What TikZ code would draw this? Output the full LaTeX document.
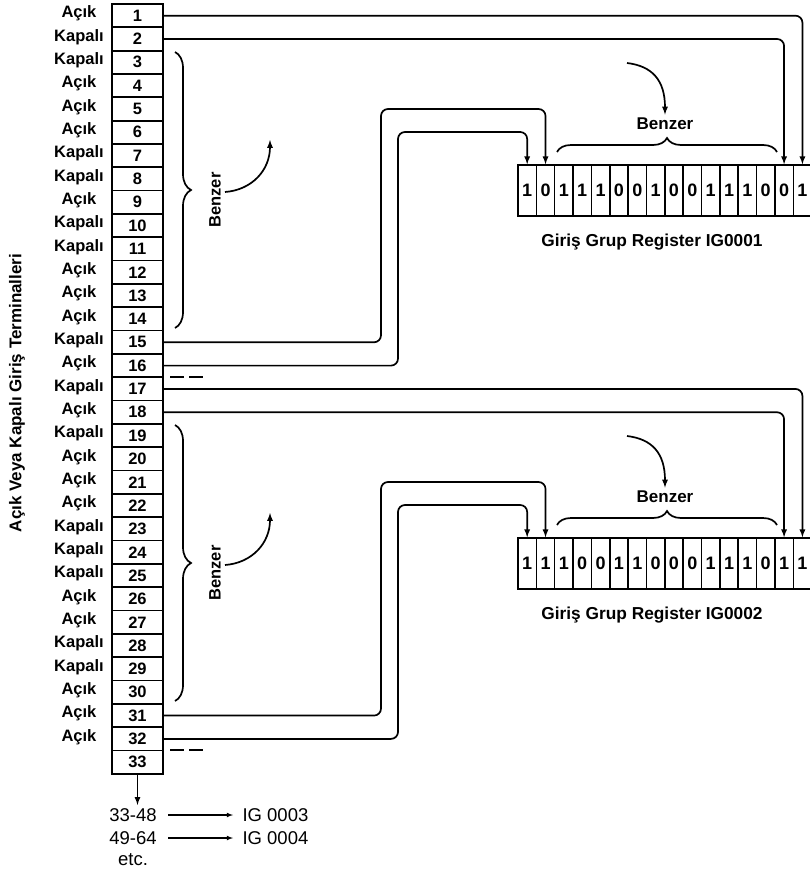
\documentclass[tikz,border=0pt]{standalone}
\usepackage{fontspec}
\setmainfont{Liberation Sans}
\usetikzlibrary{decorations.pathreplacing}

\begin{document}
\begin{tikzpicture}[x=1pt,y=-1pt,
  wire/.style={line width=1.7pt,rounded corners=7pt,-latex},
  term/.style={draw,line width=1.7pt,minimum width=51pt,minimum height=23.33pt,
    inner sep=0pt,font=\fontsize{16.5}{17}\selectfont\bfseries},
  lbl/.style={font=\fontsize{16.5}{17}\selectfont\bfseries},
  bit/.style={draw,line width=1.5pt,minimum width=18.35pt,minimum height=51pt,
    inner sep=0pt,font=\fontsize{18}{19}\selectfont\bfseries},
  note/.style={font=\fontsize{18.5}{19}\selectfont},
  brc/.style={line width=1.7pt,decorate,decoration={brace,amplitude=#1}}]
  \useasboundingbox (0,0) rectangle (809,875);

  % terminal column
  \foreach \i in {1,...,33}
    \node[term] (t\i) at (137.5,{4+23.33*(\i-0.5)}) {\i};
  \foreach \s [count=\i] in {Açık,Kapalı,Kapalı,Açık,Açık,Açık,Kapalı,Kapalı,
      Açık,Kapalı,Kapalı,Açık,Açık,Açık,Kapalı,Açık,Kapalı,Açık,Kapalı,Açık,
      Açık,Açık,Kapalı,Kapalı,Kapalı,Açık,Açık,Kapalı,Kapalı,Açık,Açık,Açık}
    \node[lbl] (l\i) at (79,{2+23.33*(\i-0.5)}) {\s};
  \node[lbl,font=\fontsize{17}{18}\selectfont\bfseries,rotate=90] (side) at (17,393)
    {Açık Veya Kapalı Giriş Terminalleri};

  % registers
  \foreach \b [count=\i] in {1,0,1,1,1,0,0,1,0,0,1,1,1,0,0,1}
    \node[bit] (a\i) at ({518+18.35*(\i-0.5)},190.5) {\b};
  \foreach \b [count=\i] in {1,1,1,0,0,1,1,0,0,0,1,1,1,0,1,1}
    \node[bit] (b\i) at ({518+18.35*(\i-0.5)},563.5) {\b};
  \node[lbl,font=\fontsize{17.3}{18}\selectfont\bfseries] (ra) at (652,242) {Giriş Grup Register IG0001};
  \node[lbl,font=\fontsize{17.3}{18}\selectfont\bfseries] (rb) at (652,615) {Giriş Grup Register IG0002};

  % first group
  \draw[wire] (t1.east) -| (a16.north);
  \draw[wire] (t2.east) -| (a15.north);
  \coordinate (k15) at (381,109);
  \coordinate (k16) at (398,132);
  \draw[wire] (t15.east) -| (k15) -| (a2.north);
  \draw[wire] (t16.east) -| (k16) -| (a1.north);
  \draw[brc=16pt] (175,52) -- (175,328);
  \node[lbl,rotate=90] (bz1) at (215,200) {Benzer};
  \coordinate (up1) at (270,140);
  \draw[line width=1.7pt,-latex] (225,192) .. controls (252,190) and (270,170) .. (up1);
  \draw[brc=14pt] (557,152) -- (777,152);
  \node[lbl,font=\fontsize{17}{18}\selectfont\bfseries] (bz2) at (665,124) {Benzer};
  \coordinate (dn1) at (627,63);
  \draw[line width=1.7pt,-latex] (dn1) .. controls (652,66) and (665,80) .. (bz2.north);
  \draw[line width=1.7pt,dash pattern=on 14pt off 5pt] (170,377) -- (208,377);

  % second group
  \draw[wire] (t17.east) -| (b16.north);
  \draw[wire] (t18.east) -| (b15.north);
  \coordinate (k31) at (381,482);
  \coordinate (k32) at (398,505);
  \draw[wire] (t31.east) -| (k31) -| (b2.north);
  \draw[wire] (t32.east) -| (k32) -| (b1.north);
  \draw[brc=16pt] (175,425) -- (175,701);
  \node[lbl,rotate=90] (bz3) at (215,573) {Benzer};
  \coordinate (up2) at (270,513);
  \draw[line width=1.7pt,-latex] (225,565) .. controls (252,563) and (270,543) .. (up2);
  \draw[brc=14pt] (557,525) -- (777,525);
  \node[lbl,font=\fontsize{17}{18}\selectfont\bfseries] (bz4) at (665,497) {Benzer};
  \coordinate (dn2) at (627,436);
  \draw[line width=1.7pt,-latex] (dn2) .. controls (652,439) and (665,453) .. (bz4.north);
  \draw[line width=1.7pt,dash pattern=on 14pt off 5pt] (170,750) -- (208,750);

  % further groups
  \node[note] (r1) at (133,815) {33-48};
  \node[note] (r2) at (133,838) {49-64};
  \node[note] (r3) at (133,860) {etc.};
  \node[note,anchor=west] (g1) at (239,815) {IG 0003};
  \node[note,anchor=west] (g2) at (239,838) {IG 0004};
  \draw[line width=1.7pt,-latex] (t33.south) -- (t33.south |- r1.north);
  \draw[line width=1.1pt,-latex,shorten <=8pt,shorten >=6pt] (r1.east) -- (g1.west);
  \draw[line width=1.1pt,-latex,shorten <=8pt,shorten >=6pt] (r2.east) -- (g2.west);
\end{tikzpicture}
\end{document}
